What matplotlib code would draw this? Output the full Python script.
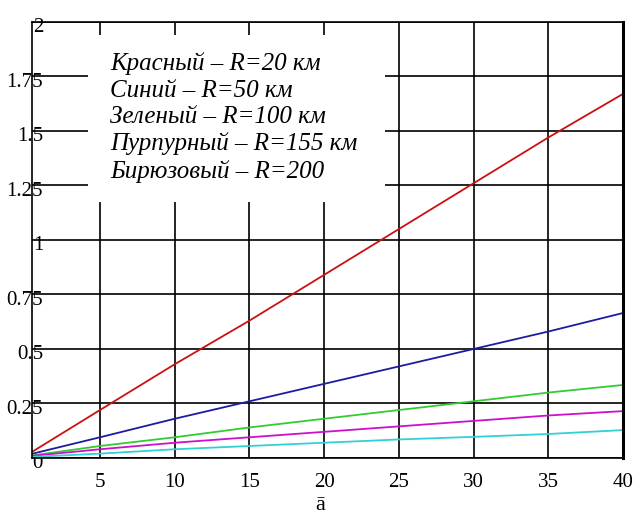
import matplotlib.pyplot as plt
from matplotlib.patches import Rectangle
from matplotlib.transforms import ScaledTranslation

# values at x = 0.5, 5, 10, ... 40
a = [0.5, 5, 10, 15, 20, 25, 30, 35, 40]
red = [0.03, 0.22, 0.43, 0.63, 0.84, 1.05, 1.26, 1.47, 1.67]
blue = [0.02, 0.095, 0.18, 0.26, 0.34, 0.42, 0.50, 0.58, 0.665]
green = [0.012, 0.055, 0.095, 0.14, 0.18, 0.22, 0.26, 0.30, 0.335]
magenta = [0.01, 0.04, 0.07, 0.095, 0.12, 0.145, 0.17, 0.195, 0.215]
cyan = [0.005, 0.02, 0.04, 0.055, 0.07, 0.085, 0.097, 0.11, 0.128]

xticks = [5, 10, 15, 20, 25, 30, 35, 40]
yticks = [0, 0.25, 0.5, 0.75, 1, 1.25, 1.5, 1.75, 2]
ylabels = ["0", "0.25", "0.5", "0.75", "1", "1.25", "1.5", "1.75", "2"]

legend_lines = [
    "Красный – R=20 км",
    "Синий – R=50 км",
    "Зеленый – R=100 км",
    "Пурпурный – R=155 км",
    "Бирюзовый – R=200",
]

plt.rcParams['font.family'] = ['Liberation Serif', 'DejaVu Serif']

fig = plt.figure(figsize=(6.4, 5.23), dpi=100)
ax = fig.add_axes([0.05, 0.1243, 0.9234, 0.8337])

ax.plot(a, red, color='#cc1010', lw=1.3)
ax.plot(a, blue, color='#1c1ca0', lw=1.3)
ax.plot(a, green, color='#30cc30', lw=1.3)
ax.plot(a, magenta, color='#cc10cc', lw=1.3)
ax.plot(a, cyan, color='#30d0d8', lw=1.3)

ax.set_xlim(0.45, 40)
ax.set_ylim(0, 2)
ax.set_xticks(xticks)
ax.set_yticks(yticks)
ax.set_yticklabels(ylabels)
ax.grid(True, color='black', lw=1.2)
ax.set_axisbelow(True)
ax.tick_params(axis='both', length=0, labelsize=15)
ax.tick_params(axis='x', pad=11)
ax.tick_params(axis='y', pad=-8)
shift = ScaledTranslation(0, -2.5 / 72, fig.dpi_scale_trans)
for lab in ax.get_yticklabels():
    lab.set_horizontalalignment('right')
    lab.set_transform(lab.get_transform() + shift)

for s in ['left', 'bottom', 'top']:
    ax.spines[s].set_linewidth(1.2)
ax.spines['right'].set_linewidth(2.2)

ax.add_patch(Rectangle((0.095, 0.587), 0.502, 0.383, transform=ax.transAxes,
                       facecolor='white', edgecolor='none', zorder=1.5))
ax.text(0.132, 0.93, "\n".join(legend_lines), transform=ax.transAxes,
        va='top', ha='left', fontsize=18, style='italic', linespacing=1.25,
        zorder=3)

fig.text(0.5, 0.015, "ā", ha='center', va='bottom', fontsize=16)

fig.savefig("out.png", dpi=100)
